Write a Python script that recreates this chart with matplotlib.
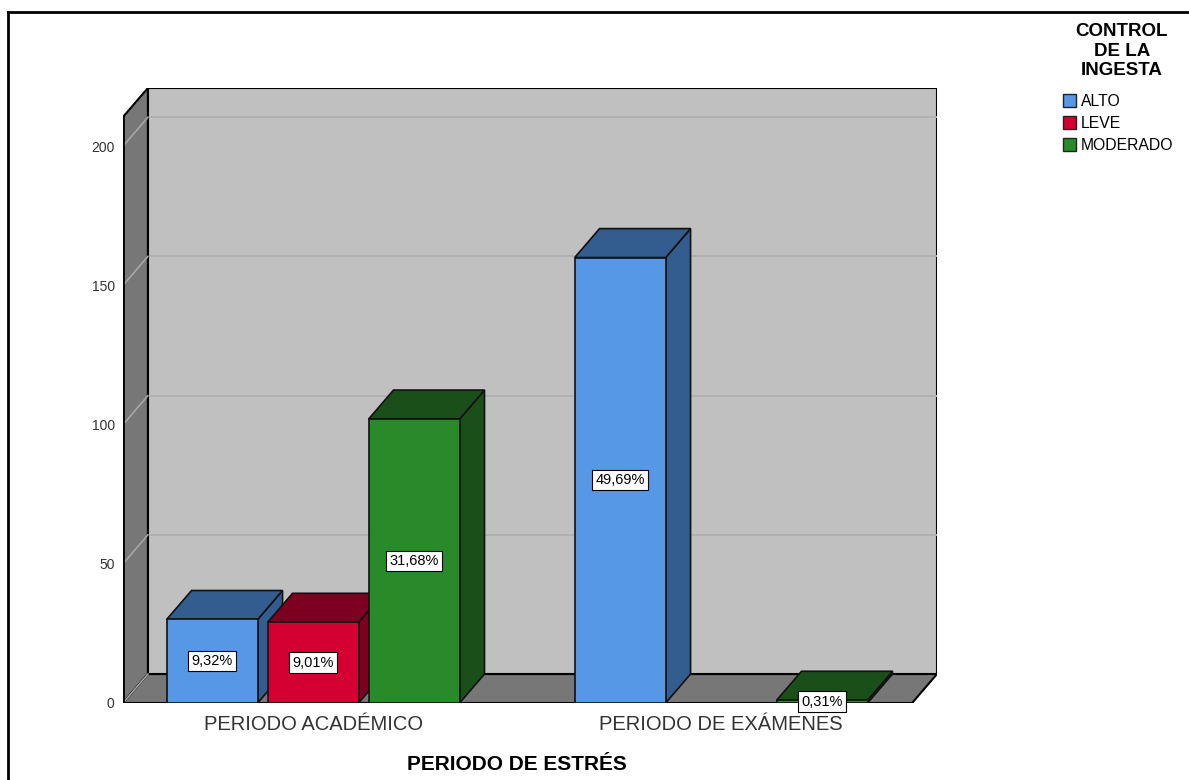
import numpy as np
import matplotlib.pyplot as plt
from matplotlib.patches import Polygon, Patch
from matplotlib.lines import Line2D

plt.rcParams['font.family'] = ['Liberation Sans', 'DejaVu Sans']

# Counts per stress period and intake-control level
periodos = ['PERIODO ACADÉMICO', 'PERIODO DE EXÁMENES']
niveles = ['ALTO', 'LEVE', 'MODERADO']
alto = [30, 160]
leve = [29, 0]
moderado = [102, 1]
yticks = [0, 50, 100, 150, 200]

series = [alto, leve, moderado]
total = sum(sum(s) for s in series)

front_cols = ['#5697e6', '#d50032', '#298a2a']
dark_cols = ['#335c8f', '#7d0020', '#1b4f1a']

# 3D look: depth offsets in data units
DX, DY = 0.061, 10.4
slot, width = 0.2475, 0.223
x_left, x_right = -0.466, 1.468
wall_top = 210.5

fig = plt.figure(figsize=(11.89, 7.80), dpi=100)
ax = fig.add_axes([123 / 1189, 1 - 703 / 780, (937 - 123) / 1189, (703 - 88) / 780])
ax.set_xlim(x_left, x_right + DX)
ax.set_ylim(0, wall_top + DY)
for s in ax.spines.values():
    s.set_visible(False)

# back wall, left wall and floor
ax.add_patch(Polygon([(x_left + DX, DY), (x_right + DX, DY), (x_right + DX, wall_top + DY),
                      (x_left + DX, wall_top + DY)], closed=True, fc='#c0c0c0', ec='black',
                     lw=1.5, zorder=0))
ax.add_patch(Polygon([(x_left, 0), (x_left, wall_top), (x_left + DX, wall_top + DY),
                      (x_left + DX, DY)], closed=True, fc='#777777', ec='black', lw=1.5, zorder=1))
ax.add_patch(Polygon([(x_left, 0), (x_right, 0), (x_right + DX, DY), (x_left + DX, DY)],
                     closed=True, fc='#777777', ec='black', lw=1.5, zorder=1))
for v in yticks:
    if v > 0:
        ax.plot([x_left + DX, x_right + DX], [v + DY, v + DY], color='#b0b0b0', lw=1.4, zorder=0.5)
    ax.plot([x_left, x_left + DX], [v, v + DY], color='#a6a6a6', lw=1.2, zorder=1.5)
ax.plot([x_left, x_left], [0, wall_top], color='black', lw=2, zorder=1.6)
ax.plot([x_left, x_right], [0, 0], color='black', lw=2, zorder=1.6)

# bars, drawn left to right so each front face covers the previous side face
z = 2
for c in range(len(periodos)):
    for k, s in enumerate(series):
        h = s[c]
        if h == 0:
            continue
        xc = c + (k - 1) * slot
        xa, xb = xc - width / 2, xc + width / 2
        ax.add_patch(Polygon([(xb, 0), (xb + DX, DY), (xb + DX, h + DY), (xb, h)], closed=True,
                             fc=dark_cols[k], ec='#111111', lw=1.2, zorder=z))
        ax.add_patch(Polygon([(xa, h), (xb, h), (xb + DX, h + DY), (xa + DX, h + DY)], closed=True,
                             fc=dark_cols[k], ec='#111111', lw=1.2, zorder=z))
        ax.bar(xc, h, width=width, color=front_cols[k], edgecolor='#111111', lw=1.2, zorder=z + 0.5)
        ax.text(xc, h / 2, f'{h / total * 100:.2f}%'.replace('.', ','), ha='center', va='center',
                fontsize=10.5, zorder=20,
                bbox=dict(boxstyle='square,pad=0.22', fc='white', ec='black', lw=0.8))
        z += 1

ax.set_yticks(yticks)
ax.set_yticklabels([str(v) for v in yticks], fontsize=10, color='#333333')
ax.set_xticks(range(len(periodos)))
ax.set_xticklabels(periodos, fontsize=14.5, color='#333333')
ax.tick_params(axis='y', length=0, pad=6)
ax.tick_params(axis='x', length=0, pad=9)
ax.set_xlabel('PERIODO DE ESTRÉS', fontsize=15, fontweight='bold')
ax.xaxis.set_label_coords((517 - 123) / 814, -(765 - 703) / 615, transform=ax.transAxes)
ax.xaxis.label.set_va('center')

# legend
fig.text(1122 / 1189, 1 - 51 / 780, 'CONTROL\nDE LA\nINGESTA', ha='center', va='center',
         fontsize=13.5, fontweight='bold', linespacing=1.2)
handles = [Patch(fc=front_cols[k], ec='#222222', lw=1) for k in range(3)]
fig.legend(handles, niveles, loc='upper left', bbox_to_anchor=(1063 / 1189, 1 - 94 / 780),
           frameon=False, fontsize=11.3, handlelength=0.85, handleheight=0.85, handletextpad=0.3,
           labelspacing=0.45, borderpad=0, borderaxespad=0)

# frame lines
fig.add_artist(Line2D([8 / 1189, 8 / 1189], [0, 1 - 12 / 780], color='black', lw=2))
fig.add_artist(Line2D([8 / 1189, 1], [1 - 12 / 780, 1 - 12 / 780], color='black', lw=2))

fig.savefig('out.png', dpi=100)
